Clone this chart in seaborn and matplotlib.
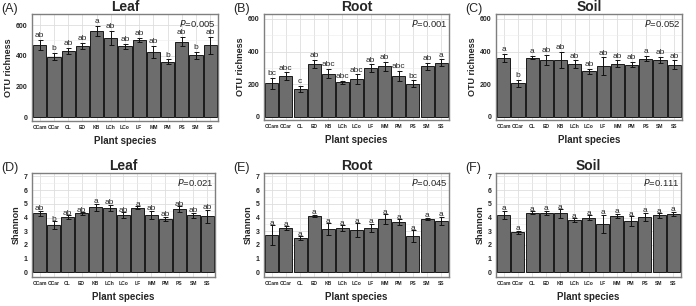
import numpy as np
import pandas as pd
import seaborn as sns
import matplotlib.pyplot as plt
from matplotlib.ticker import MultipleLocator

species = ['CCam', 'CCar', 'CL', 'ED', 'KB', 'LCh', 'LCo', 'LF', 'MM', 'PM', 'PS', 'SM', 'SS']

# OTU richness
leaf_rich = [470, 395, 432, 465, 562, 517, 462, 505, 425, 362, 492, 403, 470]
leaf_rich_err = [35, 25, 20, 20, 32, 45, 15, 12, 40, 15, 30, 22, 55]
leaf_rich_let = ['ab', 'b', 'ab', 'ab', 'a', 'ab', 'ab', 'ab', 'ab', 'b', 'ab', 'b', 'ab']

root_rich = [205, 248, 170, 325, 265, 212, 230, 297, 310, 250, 202, 310, 332]
root_rich_err = [35, 25, 18, 25, 30, 10, 30, 25, 28, 30, 22, 22, 20]
root_rich_let = ['bc', 'abc', 'c', 'ab', 'abc', 'abc', 'abc', 'ab', 'ab', 'abc', 'bc', 'ab', 'a']

soil_rich = [360, 205, 363, 348, 348, 323, 280, 310, 326, 320, 357, 348, 320]
soil_rich_err = [25, 22, 12, 30, 50, 22, 15, 55, 20, 18, 17, 20, 25]
soil_rich_let = ['a', 'b', 'a', 'ab', 'ab', 'ab', 'ab', 'ab', 'ab', 'ab', 'a', 'ab', 'ab']

# Shannon
leaf_shan = [4.3, 3.45, 4.02, 4.3, 4.75, 4.7, 4.2, 4.72, 4.2, 3.92, 4.62, 4.15, 4.08]
leaf_shan_err = [0.2, 0.3, 0.15, 0.1, 0.25, 0.25, 0.2, 0.12, 0.3, 0.15, 0.2, 0.2, 0.5]
leaf_shan_let = ['ab', 'b', 'ab', 'ab', 'a', 'ab', 'ab', 'a', 'ab', 'ab', 'ab', 'ab', 'ab']

root_shan = [2.72, 3.22, 2.48, 4.12, 3.15, 3.22, 3.08, 3.25, 3.88, 3.68, 2.65, 3.9, 3.75]
root_shan_err = [0.7, 0.15, 0.15, 0.1, 0.45, 0.2, 0.5, 0.3, 0.35, 0.2, 0.45, 0.1, 0.3]
root_shan_let = ['a'] * 13

soil_shan = [4.2, 2.92, 4.35, 4.35, 4.3, 3.82, 4.0, 3.55, 4.12, 3.75, 4.05, 4.15, 4.28]
soil_shan_err = [0.3, 0.12, 0.12, 0.15, 0.3, 0.12, 0.15, 0.65, 0.15, 0.35, 0.3, 0.15, 0.15]
soil_shan_let = ['a'] * 13

panels = [
    ('(A)', 'Leaf', 'OTU richness', 'P=0.005', leaf_rich, leaf_rich_err, leaf_rich_let, (-24, 672)),
    ('(B)', 'Root', 'OTU richness', 'P=0.001', root_rich, root_rich_err, root_rich_let, (-20, 630)),
    ('(C)', 'Soil', 'OTU richness', 'P=0.052', soil_rich, soil_rich_err, soil_rich_let, (-20, 630)),
    ('(D)', 'Leaf', 'Shannon', 'P=0.021', leaf_shan, leaf_shan_err, leaf_shan_let, (-0.34, 7.25)),
    ('(E)', 'Root', 'Shannon', 'P=0.045', root_shan, root_shan_err, root_shan_let, (-0.34, 7.25)),
    ('(F)', 'Soil', 'Shannon', 'P=0.111', soil_shan, soil_shan_err, soil_shan_let, (-0.34, 7.25)),
]

sns.set_style('white')
plt.rcParams['font.family'] = ['Liberation Sans', 'DejaVu Sans']

fig = plt.figure(figsize=(6.96, 3.06), dpi=100)
W, H = 696, 306
boxes = [(32, 14, 218, 121), (264, 14, 449, 120), (496, 14, 682, 120),
         (32, 173, 215, 277), (264, 173, 449, 277), (496, 173, 681, 277)]

for (tag, title, ylabel, ptxt, vals, errs, lets, ylim), (x0, y0, x1, y1) in zip(panels, boxes):
    ax = fig.add_axes([x0 / W, 1 - y1 / H, (x1 - x0) / W, (y1 - y0) / H])
    df = pd.DataFrame({'species': species, 'value': vals})
    sns.barplot(data=df, x='species', y='value', color='#6d6d6d', saturation=1,
                width=0.92, edgecolor='#1a1a1a', linewidth=0.7, errorbar=None, ax=ax, zorder=2)
    pos = np.arange(len(species))
    ax.errorbar(pos, vals, yerr=errs, fmt='none', ecolor='#111111', elinewidth=0.7,
                capsize=1.8, capthick=0.7, zorder=3)
    rich = ylabel == 'OTU richness'
    for i, (v, e, l) in enumerate(zip(vals, errs, lets)):
        if rich:
            ax.text(i, v + e + 4, l, ha='center', va='bottom', fontsize=6)
        else:
            ax.text(i, v + e - 0.12, l, ha='center', va='bottom', fontsize=6)
    ax.set_ylim(*ylim)
    ax.set_xlim(-0.55, len(species) - 0.45)
    if rich:
        ax.yaxis.set_major_locator(MultipleLocator(200))
        ax.yaxis.set_minor_locator(MultipleLocator(100))
    else:
        ax.yaxis.set_major_locator(MultipleLocator(1))
        ax.yaxis.set_minor_locator(MultipleLocator(0.5))
    ax.grid(True, which='major', color='#dedede', linewidth=0.6, zorder=0)
    ax.grid(True, which='minor', axis='y', color='#ececec', linewidth=0.4, zorder=0)
    ax.set_axisbelow(True)
    for s in ax.spines.values():
        s.set_color('#7f7f7f')
        s.set_linewidth(1.0)
    ax.tick_params(axis='both', which='major', length=2, width=0.6, color='#333333', pad=1)
    ax.tick_params(axis='both', which='minor', length=0)
    plt.setp(ax.get_yticklabels(), fontsize=5, fontweight='bold')
    plt.setp(ax.get_xticklabels(), fontsize=3.6, fontweight='bold')
    ax.set_xlabel('Plant species', fontsize=7, fontweight='bold', labelpad=4)
    ax.set_ylabel(ylabel, fontsize=6.5, fontweight='bold', labelpad=2)
    ax.set_title(title, fontsize=10, fontweight='bold', pad=2)
    ax.text(0.99, 0.965, r'$P$' + ptxt[1:], transform=ax.transAxes, ha='right', va='top', fontsize=6.8)
    fig.text((x0 - 32) / W + 0.002, 1 - (y0 - 14 + 3) / H, tag, fontsize=9, va='top', ha='left')

fig.savefig('out.png', dpi=100)
